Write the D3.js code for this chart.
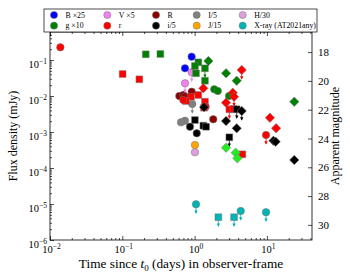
<!DOCTYPE html>
<html>
<head>
<meta charset="utf-8">
<script src="https://cdn.jsdelivr.net/npm/d3@7"></script>
<style>
body { margin: 0; background: #fff; }
text { font-family: "Liberation Serif", "Times New Roman", serif; fill: #000; }
</style>
</head>
<body>
<div id="chart"></div>
<script>

// bands shown in the legend, in legend order (row by row)
var bandNames = ["B ×25", "V ×5", "R", "I/5", "H/30", "g ×10", "r", "i/5", "J/15", "X-ray (AT2021any)"];
var bandColors = ["#0000ff", "#ee82ee", "#8b0000", "#808080", "#dda0dd", "#008000", "#ff0000", "#000000", "#ffa500", "#00b4b4"];

// points: [time (d), flux (mJy), data set (0 circle, 1 square, 2 diamond), upper limit]
var B25 = [[0.91, 0.124, 0, 0], [0.736, 0.0588, 0, 0]];
var V5 = [[0.912, 0.0455, 0, 1], [0.736, 0.0225, 0, 1]];
var Rb = [[0.614, 0.0100, 0, 0], [0.698, 0.0107, 0, 0], [0.912, 0.0132, 0, 0], [0.736, 0.0096, 0, 0], [1.81, 0.00225, 0, 0]];
var I5 = [[0.929, 0.0060, 0, 1], [0.736, 0.00206, 0, 0], [0.648, 0.00186, 0, 0]];
var H30 = [[1.01, 0.000273, 0, 0]];
var g10 = [[0.211, 0.144, 1, 0], [0.336, 0.147, 1, 0], [1.125, 0.0863, 1, 0], [1.01, 0.0681, 1, 0],
	[1.39, 0.0588, 1, 1], [1.045, 0.0428, 1, 0], [1.39, 0.0266, 1, 0],
	[1.55, 0.0938, 2, 0], [2.72, 0.0428, 2, 0], [3.82, 0.0266, 2, 0], [23.9, 0.00695, 2, 0],
	[1.87, 0.0153, 0, 0], [2.09, 0.0138, 0, 0], [2.99, 0.0100, 0, 0]];
var rb = [[0.0139, 0.225, 0, 0], [0.101, 0.0408, 1, 0], [0.172, 0.0291, 1, 0],
	[1.125, 0.01067, 1, 0], [0.891, 0.00957, 1, 0], [0.76, 0.00726, 1, 0], [1.39, 0.00695, 1, 0],
	[1.35, 0.00473, 1, 0], [3.02, 0.00428, 1, 1], [3.43, 0.00436, 1, 0], [4.57, 0.00024, 1, 0],
	[0.698, 0.00774, 0, 0], [1.42, 0.00505, 0, 0], [9.72, 0.000826, 0, 1],
	[1.32, 0.0164, 2, 0], [4.48, 0.0527, 2, 1], [3.37, 0.0124, 2, 0], [3.51, 0.00957, 2, 1],
	[2.72, 0.00652, 2, 0], [11.0, 0.00249, 2, 0], [13.4, 0.00127, 2, 0]];
var i5 = [[1.01, 0.00215, 1, 0], [1.32, 0.0015, 1, 0], [1.44, 0.0014, 1, 0], [3.02, 0.000713, 1, 1], [3.82, 0.00428, 1, 1],
	[0.863, 0.0014, 0, 0], [1.07, 0.00092, 0, 0],
	[2.72, 0.00202, 2, 0], [3.82, 0.00127, 2, 0], [4.48, 0.00383, 2, 1], [12.3, 0.000573, 2, 0],
	[13.2, 0.000538, 2, 0], [23.9, 0.000167, 2, 0], [1.35, 0.0049, 2, 0]];
var J15 = [[1.01, 0.000436, 0, 0]];
var xray = [[1.045, 9.8e-6, 0, 1], [2.13, 4.3e-6, 1, 1], [3.51, 4.3e-6, 1, 1], [4.34, 6.4e-6, 0, 1], [9.72, 5.9e-6, 0, 1]];
// bright green diamonds, no legend entry
var limeColor = "#22ee22";
var lime = [[2.72, 0.000366, 2, 0], [3.70, 0.000266, 2, 0], [3.90, 0.000186, 2, 0]];

var bandData = [B25, V5, Rb, I5, H30, g10, rb, i5, J15, xray];

// axis ticks
var xMajor = [0.01, 0.1, 1, 10];
var xExp = ["\u22122", "\u22121", "0", "1"];
var yMajor = [1e-6, 1e-5, 1e-4, 1e-3, 1e-2, 1e-1];
var yExp = ["\u22126", "\u22125", "\u22124", "\u22123", "\u22122", "\u22121"];
var magTicks = [18, 20, 22, 24, 26, 28, 30];
var magZP = 16.05; // m = ZP - 2.5 log10(f/mJy)

var margin = {top: 32, right: 38, bottom: 40, left: 50};
var width = 350 - margin.left - margin.right;
var height = 280 - margin.top - margin.bottom;

var svg = d3.select("#chart").append("svg")
	.attr("width", 350)
	.attr("height", 280);

var g = svg.append("g")
	.attr("transform", "translate(" + margin.left + "," + margin.top + ")");

var fTop = 0.6;
var x = d3.scaleLog().domain([0.01, 42]).range([0, width]);
var y = d3.scaleLog().domain([1e-6, fTop]).range([height, 0]);
var mag = d3.scaleLinear()
	.domain([magZP - 2.5 * Math.log10(fTop), magZP + 2.5 * 6])
	.range([0, height]);

function minorTicks(lo, hi, dom) {
	var out = [];
	for (var e = lo; e <= hi; e++)
		for (var k = 2; k <= 9; k++) {
			var v = k * Math.pow(10, e);
			if (v >= dom[0] && v <= dom[1]) out.push(v);
		}
	return out;
}
var xMinor = minorTicks(-2, 1, x.domain());
var yMinor = minorTicks(-6, -1, y.domain());

// ticks, all pointing inward
function drawTicks(makeAxis, major, minor, transform) {
	var gg = g.append("g").attr("transform", transform);
	gg.append("g").call(makeAxis().tickValues(major).tickSize(-4).tickFormat(""));
	gg.append("g").call(makeAxis().tickValues(minor).tickSize(-2).tickFormat(""));
	gg.selectAll(".domain").remove();
	gg.selectAll("line").attr("stroke-width", 0.7);
}
drawTicks(function() { return d3.axisBottom(x); }, xMajor, xMinor, "translate(0," + height + ")");
drawTicks(function() { return d3.axisTop(x); }, xMajor, xMinor, null);
drawTicks(function() { return d3.axisLeft(y); }, yMajor, yMinor, null);

// right axis in magnitudes
var ra = g.append("g")
	.attr("transform", "translate(" + width + ",0)")
	.call(d3.axisRight(mag).tickValues(magTicks).tickSize(-4).tickPadding(6));
ra.selectAll(".domain").remove();
ra.selectAll("line").attr("stroke-width", 0.7);
ra.selectAll("text").style("font-size", "11px").style("font-family", "Liberation Serif, serif");

// frame
g.append("rect")
	.attr("width", width).attr("height", height)
	.attr("fill", "none").attr("stroke", "#000").attr("stroke-width", 0.8);

// tick labels with superscripts
xMajor.forEach(function(v, i) {
	var t = g.append("text")
		.attr("x", x(v) + 1.5)
		.attr("y", height + 12.5)
		.attr("text-anchor", "middle")
		.style("font-size", "10.5px");
	t.append("tspan").text("10");
	t.append("tspan").attr("dy", -4).style("font-size", "7.5px").text(xExp[i]);
});
yMajor.forEach(function(v, i) {
	var t = g.append("text")
		.attr("x", -3)
		.attr("y", y(v) + 7.5)
		.attr("text-anchor", "end")
		.style("font-size", "10.5px");
	t.append("tspan").text("10");
	t.append("tspan").attr("dy", -4).style("font-size", "7.5px").text(yExp[i]);
});

// axis titles
var xl = g.append("text")
	.attr("x", width / 2)
	.attr("y", height + 28)
	.attr("text-anchor", "middle")
	.style("font-size", "13.3px");
xl.append("tspan").text("Time since ");
xl.append("tspan").style("font-style", "italic").text("t");
xl.append("tspan").attr("dy", 2.5).style("font-size", "9px").text("0");
xl.append("tspan").attr("dy", -2.5).text(" (days) in observer-frame");

g.append("text")
	.attr("transform", "translate(" + (-33) + "," + (height / 2) + ") rotate(-90)")
	.attr("text-anchor", "middle")
	.style("font-size", "12px")
	.text("Flux density (mJy)");

g.append("text")
	.attr("transform", "translate(" + (width + 27) + "," + (height / 2) + ") rotate(-90)")
	.attr("text-anchor", "middle")
	.style("font-size", "12px")
	.text("Apparent magnitude");

// markers
var setSymbol = [d3.symbolCircle, d3.symbolSquare, d3.symbolSquare];
var setSize = [44, 46, 44];
var setRotate = [0, 0, 45];
var arrowLen = 9;

function drawBand(pts, color) {
	var layer = g.append("g");
	// upper limit arrows behind markers
	pts.filter(function(d) { return d[3]; }).forEach(function(d) {
		var px = x(d[0]), py = y(d[1]);
		layer.append("line")
			.attr("x1", px).attr("x2", px)
			.attr("y1", py).attr("y2", py + arrowLen)
			.attr("stroke", color).attr("stroke-width", 0.8);
		layer.append("path")
			.attr("d", "M" + (px - 1.7) + "," + (py + arrowLen - 2.8) + "L" + px + "," + (py + arrowLen + 0.5) +
				"L" + (px + 1.7) + "," + (py + arrowLen - 2.8) + "Z")
			.attr("fill", color);
	});
	layer.selectAll("path.m")
		.data(pts)
		.enter().append("path")
		.attr("class", "m")
		.attr("d", function(d) { return d3.symbol().type(setSymbol[d[2]]).size(setSize[d[2]])(); })
		.attr("transform", function(d) {
			return "translate(" + x(d[0]) + "," + y(d[1]) + ") rotate(" + setRotate[d[2]] + ")";
		})
		.attr("fill", color)
		.attr("stroke", "#777")
		.attr("stroke-width", 0.5);
}

var drawOrder = [2, 3, 4, 8, 0, 1, 5, 6, 7, 9];
drawOrder.forEach(function(i) { drawBand(bandData[i], bandColors[i]); });
drawBand(lime, limeColor);

// legend above the frame
var legX = [54, 107.3, 156, 196.7, 242.7];
var legY = [15, 25.7];
svg.append("rect")
	.attr("x", 44).attr("y", 9)
	.attr("width", 273).attr("height", 23)
	.attr("fill", "#fff").attr("stroke", "#000").attr("stroke-width", 0.7);

var leg = svg.selectAll(".legend")
	.data(bandNames)
	.enter().append("g")
	.attr("class", "legend")
	.attr("transform", function(d, i) { return "translate(" + legX[i % 5] + "," + legY[Math.floor(i / 5)] + ")"; });

leg.append("circle")
	.attr("r", 3.6)
	.attr("fill", function(d, i) { return bandColors[i]; })
	.attr("stroke", "#777").attr("stroke-width", 0.5);

leg.append("text")
	.attr("x", 11.5)
	.attr("y", 2.6)
	.style("font-size", "7.8px")
	.text(function(d) { return d; });

</script>
</body>
</html>
